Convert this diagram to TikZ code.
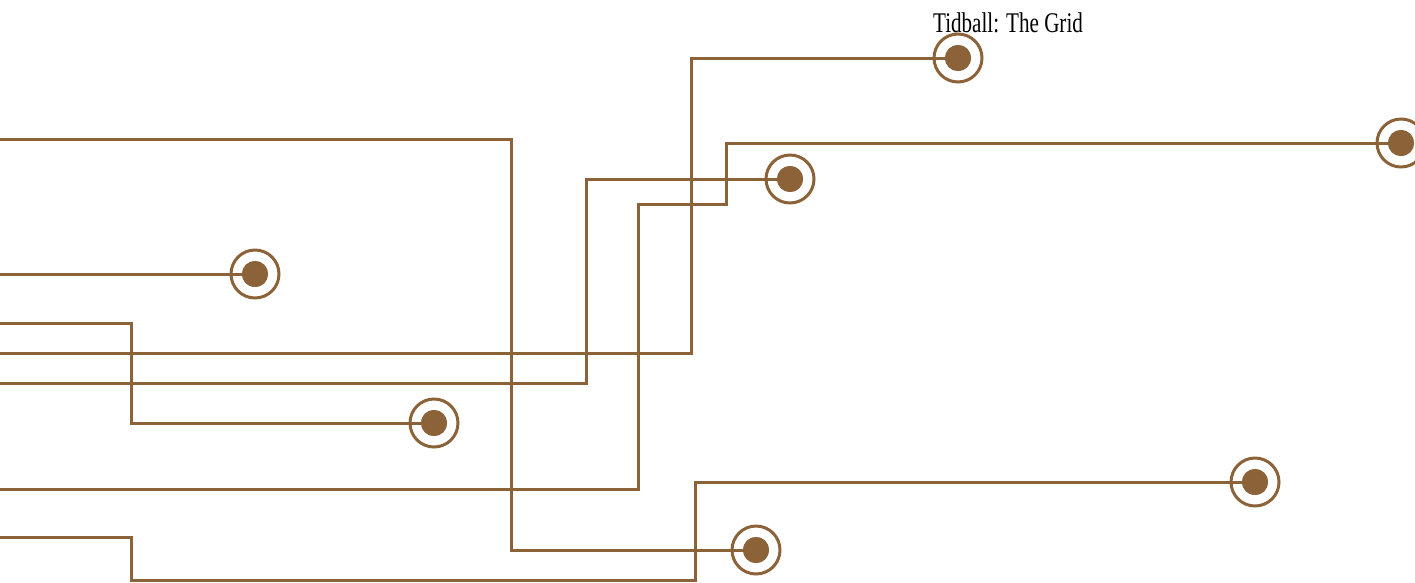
\documentclass[tikz,border=0pt]{standalone}
\usepackage{fontspec}
\setmainfont{Liberation Serif}
\definecolor{wire}{RGB}{140,98,56}
\pgfdeclarelayer{background}
\pgfsetlayers{background,main}
\begin{document}
\begin{tikzpicture}[x=1pt,y=-1pt,
  wireline/.style={draw=wire,line width=3pt},
  endmark/.style={circle,draw=wire,fill=white,line width=3pt,minimum size=48pt,inner sep=0pt,
    path picture={\fill[wire] (path picture bounding box.center) circle (13pt);}},
  title/.style={inner sep=0pt,anchor=base}]
\useasboundingbox (0,0) rectangle (1415,582);
% start points
\coordinate (s1) at (0,139);
\coordinate (s2) at (0,274);
\coordinate (s3) at (0,323);
\coordinate (s4) at (0,353);
\coordinate (s5) at (0,383);
\coordinate (s6) at (0,489);
\coordinate (s7) at (0,537);
% markers
\node[endmark] (m1) at (756,550) {};
\node[endmark] (m2) at (255,274) {};
\node[endmark] (m3) at (434,423) {};
\node[endmark] (m4) at (958,58) {};
\node[endmark] (m5) at (790,179) {};
\node[endmark] (m6) at (1401,143) {};
\node[endmark] (m7) at (1255,482) {};
% wires under the markers, reaching the inner dot
\begin{pgfonlayer}{background}
\draw[wireline] (s1) -- (511,139) |- (m1.center);
\draw[wireline] (s2) -- (m2.center);
\draw[wireline] (s3) -- (131,323) |- (m3.center);
\draw[wireline] (s4) -- (691,353) |- (m4.center);
\draw[wireline] (s5) -- (586,383) |- (m5.center);
\draw[wireline] (s6) -- (638,489) -- (638,204) -- (726,204) |- (m6.center);
\draw[wireline] (s7) -- (131,537) -- (131,580) -- (695,580) |- (m7.center);
\end{pgfonlayer}
% inner stretch of each wire inside its ring
\draw[wireline] (m1.west) -- (m1.center);
\draw[wireline] (m2.west) -- (m2.center);
\draw[wireline] (m3.west) -- (m3.center);
\draw[wireline] (m4.west) -- (m4.center);
\draw[wireline] (m5.west) -- (m5.center);
\draw[wireline] (m6.west) -- (m6.center);
\draw[wireline] (m7.west) -- (m7.center);
\foreach \m in {m1,m2,m3,m4,m5,m6,m7}{\fill[wire] (\m.center) circle (13pt);}
\node[title] (t) at (1008,32) {\scalebox{0.74}[1]{\fontsize{28.5}{30}\selectfont Tidball: The Grid}};
\end{tikzpicture}
\end{document}
